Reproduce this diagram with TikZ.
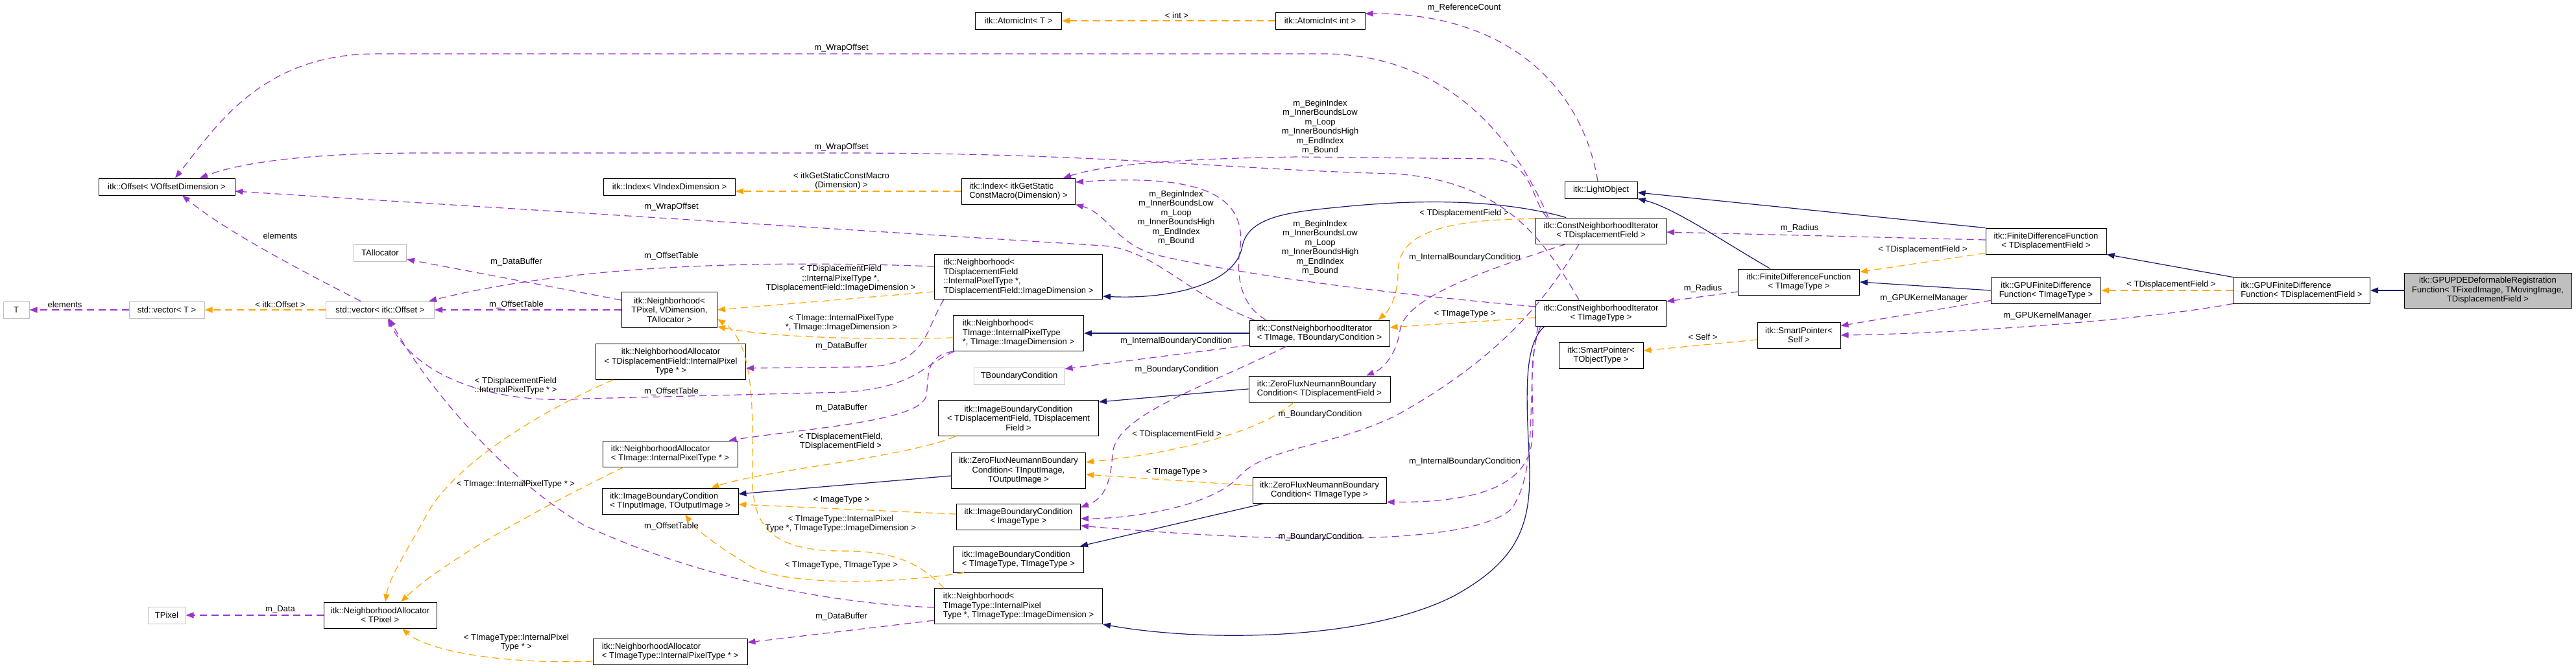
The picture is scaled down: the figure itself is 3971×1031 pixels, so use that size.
\documentclass[tikz,border=0pt]{standalone}
\usepackage{fontspec}
\setmainfont{Liberation Sans}
\usetikzlibrary{arrows.meta}
\definecolor{orchid}{HTML}{9A32CD}
\definecolor{amber}{HTML}{FFA500}
\definecolor{midnight}{HTML}{191970}
\definecolor{grey75}{HTML}{BFBFBF}
\newcommand\dxfont{\fontsize{13}{14.5}\selectfont}
\newcommand\iterlist{m\_BeginIndex\\m\_InnerBoundsLow\\m\_Loop\\m\_InnerBoundsHigh\\m\_EndIndex\\m\_Bound}
\tikzset{cls/.style={draw=black,fill=white,line width=1pt,font=\dxfont,inner sep=2pt,minimum height=26pt,align=center},
  ext/.style={cls,draw=grey75},
  h2/.style={minimum height=40pt},h3/.style={minimum height=55pt},h4/.style={minimum height=69pt},
  inh/.style={draw=midnight,line width=1.2pt,-{Triangle[length=12pt,width=9pt]}},
  tpl/.style={draw=amber,line width=1.2pt,dash pattern=on 11pt off 7pt,-{Triangle[length=12pt,width=9pt]}},
  mem/.style={draw=orchid,line width=1.2pt,dash pattern=on 11pt off 7pt,-{Triangle[length=12pt,width=9pt]}},
  lbl/.style={font=\dxfont,inner sep=0pt,align=center}}

\begin{document}
\begin{tikzpicture}[x=1pt,y=-1pt]
\useasboundingbox (0,0) rectangle (3971,1031);
% classes
\node[ext,minimum width=40pt] (tT) at (25,478) {T};
\node[ext,minimum width=116pt] (vecT) at (257,478) {std::vector< T >};
\node[cls,minimum width=210pt] (offset) at (257,288) {itk::Offset< VOffsetDimension >};
\node[ext,minimum width=58pt] (tpixel) at (257,949) {TPixel};
\node[ext,minimum width=81pt] (tallocator) at (586,390) {TAllocator};
\node[ext,minimum width=167pt] (vecOff) at (586,478) {std::vector< itk::Offset >};
\node[cls,h2,minimum width=174pt] (allocPix) at (586,949) {itk::NeighborhoodAllocator\\< TPixel >};
\node[cls,minimum width=203pt] (indexV) at (1032,288) {itk::Index< VIndexDimension >};
\node[cls,h3,minimum width=147pt] (nbhPix) at (1032,478) {itk::Neighborhood<\\TPixel, VDimension,\\TAllocator >};
\node[cls,h3,minimum width=231pt] (allocDF) at (1034,558) {itk::NeighborhoodAllocator\\< TDisplacementField::InternalPixel\\Type * >};
\node[cls,h2,align=left,minimum width=208pt] (allocImg) at (1033,700) {itk::NeighborhoodAllocator\\< TImage::InternalPixelType * >};
\node[cls,h2,align=left,minimum width=210pt] (ibcInOut) at (1033,773) {itk::ImageBoundaryCondition\\< TInputImage, TOutputImage >};
\node[cls,h2,align=left,minimum width=238pt] (allocImgT) at (1033,1005) {itk::NeighborhoodAllocator\\< TImageType::InternalPixelType * >};
\node[cls,minimum width=133pt] (atomicT) at (1570,32) {itk::AtomicInt< T >};
\node[cls,h2,align=left,minimum width=175pt] (indexMacro) at (1570,295) {itk::Index< itkGetStatic\\ConstMacro(Dimension) >};
\node[cls,h4,align=left,minimum width=259pt] (nbhDF) at (1570,427) {itk::Neighborhood<\\ TDisplacementField\\::InternalPixelType *,\\ TDisplacementField::ImageDimension >};
\node[cls,h3,align=left,minimum width=201pt] (nbhImg) at (1570,514) {itk::Neighborhood<\\ TImage::InternalPixelType\\ *, TImage::ImageDimension >};
\node[ext,minimum width=140pt] (tbc) at (1571,580) {TBoundaryCondition};
\node[cls,h3,minimum width=247pt] (ibcDF) at (1570,645) {itk::ImageBoundaryCondition\\< TDisplacementField, TDisplacement\\Field >};
\node[cls,h3,minimum width=207pt] (zfnInOut) at (1570,726) {itk::ZeroFluxNeumannBoundary\\Condition< TInputImage,\\TOutputImage >};
\node[cls,h2,minimum width=191pt] (ibcImg) at (1570,797) {itk::ImageBoundaryCondition\\< ImageType >};
\node[cls,h2,align=left,minimum width=201pt] (ibcTT) at (1570,863) {itk::ImageBoundaryCondition\\< TImageType, TImageType >};
\node[cls,h3,align=left,minimum width=259pt] (nbhImgT) at (1570,935) {itk::Neighborhood<\\ TImageType::InternalPixel\\Type *, TImageType::ImageDimension >};
\node[cls,minimum width=138pt] (atomicInt) at (2035,32) {itk::AtomicInt< int >};
\node[cls,h2,align=left,minimum width=216pt] (cniImgBC) at (2034,514) {itk::ConstNeighborhoodIterator\\< TImage, TBoundaryCondition >};
\node[cls,h2,align=left,minimum width=218pt] (zfnDF) at (2034,600) {itk::ZeroFluxNeumannBoundary\\Condition< TDisplacementField >};
\node[cls,h2,minimum width=206pt] (zfnImg) at (2034,756) {itk::ZeroFluxNeumannBoundary\\Condition< TImageType >};
\node[cls,minimum width=112pt] (light) at (2468,293) {itk::LightObject};
\node[cls,h2,minimum width=201pt] (cniDF) at (2468,356) {itk::ConstNeighborhoodIterator\\< TDisplacementField >};
\node[cls,h2,minimum width=201pt] (cniImgT) at (2468,483) {itk::ConstNeighborhoodIterator\\< TImageType >};
\node[cls,h2,minimum width=130pt] (spObj) at (2468,548) {itk::SmartPointer<\\TObjectType >};
\node[cls,h2,minimum width=187pt] (fdfImgT) at (2773,435) {itk::FiniteDifferenceFunction\\< TImageType >};
\node[cls,h2,minimum width=128pt] (spSelf) at (2773,517) {itk::SmartPointer<\\Self >};
\node[cls,h2,minimum width=186pt] (fdfDF) at (3154,372) {itk::FiniteDifferenceFunction\\< TDisplacementField >};
\node[cls,h2,minimum width=169pt] (gpuImgT) at (3154,448) {itk::GPUFiniteDifference\\Function< TImageType >};
\node[cls,h2,align=left,minimum width=211pt] (gpuDF) at (3548,448) {itk::GPUFiniteDifference\\Function< TDisplacementField >};
\node[cls,h3,fill=grey75,minimum width=258pt,minimum height=54pt] (main) at (3835,448) {itk::GPUPDEDeformableRegistration\\Function< TFixedImage, TMovingImage,\\TDisplacementField >};
% inheritance
\draw[inh] (main.west) -- (gpuDF.east);
\draw[inh] (gpuDF.north west) -- (fdfDF.south east);
\draw[inh] (gpuImgT.west) -- (fdfImgT.east);
\draw[inh] (fdfDF.north west) -- ([yshift=-4pt]light.east);
\draw[inh] ([xshift=50pt]fdfImgT.north west) .. controls (2660,375) and (2580,320) .. (light.south east);
\draw[inh] ([xshift=47pt]cniDF.north west) .. controls (2330,312) and (2220,305) .. (2080,318) .. controls (2000,326) and (1925,330) .. (1915,380) .. controls (1905,440) and (1800,462) .. ([yshift=5pt]nbhDF.south east);
\draw[inh] (cniImgBC.west) -- (nbhImg.east);
\draw[inh] ([xshift=14pt]cniImgT.south west) .. controls (2350,530) and (2352,600) .. (2357,700) .. controls (2362,800) and (2350,860) .. (2240,920) .. controls (2100,990) and (1850,990) .. (nbhImgT.south east);
\draw[inh] (zfnDF.west) -- ([yshift=-3pt]ibcDF.north east);
\draw[inh] ([yshift=-8pt]zfnInOut.west) -- ([yshift=11pt]ibcInOut.east);
\draw[inh] ([xshift=19pt]zfnImg.south west) -- ([xshift=-6pt]ibcTT.north east);
% template instances
\draw[tpl] (atomicInt.west) -- (atomicT.east);
\draw[tpl] (indexMacro.west) -- ([yshift=-7pt]indexV.east);
\draw[tpl] ([yshift=-23pt]nbhDF.west) -- (nbhPix.east);
\draw[tpl] ([yshift=-7pt]nbhImg.west) .. controls (1350,524) and (1200,522) .. ([yshift=2pt]nbhPix.south east);
\draw[tpl] ([xshift=15pt]nbhImgT.north west) .. controls (1420,870) and (1380,850) .. (1300,850) .. controls (1200,850) and (1160,820) .. (1160,740) .. controls (1160,640) and (1165,530) .. ([yshift=-14pt]nbhPix.east);
\draw[tpl] (vecOff.west) -- (vecT.east);
\draw[tpl] ([xshift=27pt]allocDF.south west) .. controls (820,640) and (700,720) .. (660,790) .. controls (630,845) and (600,890) .. ([xshift=8pt]allocPix.north);
\draw[tpl] ([xshift=33pt]allocImg.south west) .. controls (850,775) and (690,860) .. ([xshift=32pt]allocPix.north);
\draw[tpl] ([yshift=-15pt]allocImgT.west) .. controls (780,1025) and (660,1005) .. ([xshift=34pt]allocPix.south);
\draw[tpl] ([xshift=27pt]ibcDF.south west) .. controls (1400,705) and (1180,725) .. ([xshift=-42pt]ibcInOut.north east);
\draw[tpl] ([yshift=4pt]ibcImg.west) -- ([yshift=-5pt]ibcInOut.east);
\draw[tpl] ([xshift=17pt]ibcTT.south west) .. controls (1380,900) and (1220,905) .. (1160,875) .. controls (1110,845) and (1075,820) .. ([xshift=23pt]ibcInOut.south);
\draw[tpl] ([xshift=70pt]zfnDF.south west) .. controls (1940,670) and (1800,700) .. ([yshift=13pt]zfnInOut.east);
\draw[tpl] ([yshift=7pt]zfnImg.west) -- ([yshift=-6pt]zfnInOut.east);
\draw[tpl] ([yshift=-2pt]cniDF.north west) .. controls (2200,338) and (2155,370) .. (2155,420) .. controls (2155,460) and (2140,480) .. ([xshift=-18pt]cniImgBC.north east);
\draw[tpl] ([yshift=-7pt]cniImgT.west) -- ([yshift=9pt]cniImgBC.east);
\draw[tpl] ([yshift=-7pt]spSelf.west) -- ([yshift=7pt]spObj.east);
\draw[tpl] ([yshift=2pt]fdfDF.south west) -- ([yshift=-5pt]fdfImgT.north east);
\draw[tpl] (gpuDF.west) -- (gpuImgT.east);
% members
\draw[mem] ([xshift=-5pt]light.north) .. controls (2440,140) and (2330,20) .. ([yshift=11pt]atomicInt.east);
\draw[mem] ([xshift=20pt]cniDF.north west) .. controls (2350,250) and (2260,90) .. (2050,83) -- (580,83) .. controls (400,83) and (330,200) .. ([xshift=13pt]offset.north);
\draw[mem] ([xshift=67pt]cniImgT.north west) .. controls (2380,370) and (2320,280) .. (2150,268) .. controls (1900,262) and (1700,236) .. (1300,236) -- (650,236) .. controls (450,236) and (360,255) .. ([xshift=51pt]offset.north);
\draw[mem] ([xshift=8pt]cniImgBC.north west) .. controls (1830,455) and (1780,385) .. (1700,379) -- ([yshift=-7pt]offset.east);
\draw[mem] ([xshift=26pt]cniImgBC.north west) .. controls (1910,470) and (1905,420) .. (1912,380) .. controls (1920,300) and (1850,268) .. ([yshift=14pt]indexMacro.east);
\draw[mem] ([xshift=18pt]cniDF.north west) .. controls (2360,310) and (2365,250) .. (2300,245) -- (2000,242) .. controls (1800,245) and (1700,255) .. ([xshift=-19pt]indexMacro.north east);
\draw[mem] ([yshift=10pt]cniImgT.west) .. controls (2100,450) and (1900,420) .. (1790,395) .. controls (1720,380) and (1710,330) .. (indexMacro.south east);
\draw[mem] ([xshift=47pt]cniDF.south west) .. controls (2280,420) and (2165,460) .. (2158,510) .. controls (2152,550) and (2130,570) .. ([xshift=72pt]zfnDF.north);
\draw[mem] ([xshift=67pt]cniDF.south west) .. controls (2380,470) and (2300,560) .. (2150,642) .. controls (2050,690) and (1950,690) .. (1910,735) .. controls (1870,780) and (1750,800) .. ([yshift=-3pt]ibcImg.east);
\draw[mem] ([yshift=2pt]cniImgBC.south west) -- ([yshift=11pt]tbc.east);
\draw[mem] ([xshift=57pt]cniImgBC.south west) .. controls (1850,600) and (1720,640) .. (1715,700) .. controls (1712,750) and (1700,770) .. ([yshift=-6pt]ibcImg.north east);
\draw[mem] ([xshift=8pt]cniImgT.south west) .. controls (2350,560) and (2370,640) .. (2360,690) .. controls (2345,760) and (2250,775) .. ([yshift=2pt]zfnImg.south east);
\draw[mem] ([xshift=4pt]cniImgT.south west) .. controls (2350,600) and (2375,720) .. (2330,785) .. controls (2270,840) and (2000,840) .. ([yshift=-14pt]ibcImg.east);
\draw[mem] ([yshift=2pt]fdfDF.west) -- ([yshift=-2pt]cniDF.east);
\draw[mem] ([yshift=-15pt]fdfImgT.west) -- ([yshift=18pt]cniImgT.east);
\draw[mem] ([yshift=5pt]gpuImgT.south west) -- ([yshift=-6pt]spSelf.north east);
\draw[mem] (gpuDF.south west) .. controls (3300,495) and (3000,515) .. (spSelf.east);
\draw[mem] ([yshift=15pt]nbhPix.west) -- ([yshift=-10pt]tallocator.east);
\draw[mem] (nbhPix.west) -- (vecOff.east);
\draw[mem] ([yshift=16pt]nbhDF.west) .. controls (1200,402) and (900,405) .. ([xshift=-9pt]vecOff.north east);
\draw[mem] ([xshift=15pt]nbhDF.south west) .. controls (1425,510) and (1430,565) .. (1330,566) -- ([yshift=-10pt]allocDF.east);
\draw[mem] (nbhImg.south west) .. controls (1425,550) and (1432,580) .. (1428,610) .. controls (1420,650) and (1250,660) .. ([xshift=-14pt]allocImg.north east);
\draw[mem] ([xshift=2pt]nbhImg.south west) .. controls (1420,565) and (1410,598) .. (1300,605) -- (900,615) .. controls (760,625) and (640,580) .. ([xshift=12pt]vecOff.south);
\draw[mem] ([yshift=-2pt]nbhImgT.west) .. controls (1250,930) and (1050,880) .. (900,810) .. controls (780,740) and (660,600) .. ([xshift=14pt]vecOff.south);
\draw[mem] ([yshift=-22pt]nbhImgT.west) -- ([yshift=14pt]allocImgT.east);
\draw[mem] ([xshift=-30pt]vecOff.north) .. controls (430,400) and (340,350) .. ([xshift=24pt]offset.south);
\draw[mem] (vecT.west) -- (tT.east);
\draw[mem] (allocPix.west) -- (tpixel.east);
% edge labels
\node[lbl] (lElemA) at (432,364) {elements};
\node[lbl] (lElemB) at (100,470) {elements};
\node[lbl] (lVecOff) at (432,470) {< itk::Offset >};
\node[lbl] (lData) at (432,940) {m\_Data};
\node[lbl] (lBufA) at (796,404) {m\_DataBuffer};
\node[lbl] (lTblA) at (796,470) {m\_OffsetTable};
\node[lbl] (lAllocDF) at (795,595) {< TDisplacementField\\::InternalPixelType * >};
\node[lbl] (lAllocImg) at (795,747) {< TImage::InternalPixelType * >};
\node[lbl] (lAllocImgT) at (796,991) {< TImageType::InternalPixel\\Type * >};
\node[lbl] (lWrapA) at (1297,74) {m\_WrapOffset};
\node[lbl] (lWrapB) at (1297,227) {m\_WrapOffset};
\node[lbl] (lWrapC) at (1035,319) {m\_WrapOffset};
\node[lbl] (lIndex) at (1297,279) {< itkGetStaticConstMacro\\(Dimension) >};
\node[lbl] (lTblB) at (1035,395) {m\_OffsetTable};
\node[lbl] (lTblC) at (1035,604) {m\_OffsetTable};
\node[lbl] (lTblD) at (1035,812) {m\_OffsetTable};
\node[lbl] (lNbhDF) at (1296,430) {< TDisplacementField\\::InternalPixelType *,\\TDisplacementField::ImageDimension >};
\node[lbl] (lNbhImg) at (1297,498) {< TImage::InternalPixelType\\*, TImage::ImageDimension >};
\node[lbl] (lBufB) at (1297,534) {m\_DataBuffer};
\node[lbl] (lBufC) at (1297,629) {m\_DataBuffer};
\node[lbl] (lBufD) at (1297,951) {m\_DataBuffer};
\node[lbl] (lIbcDF) at (1296,681) {< TDisplacementField,\\TDisplacementField >};
\node[lbl] (lIbcImg) at (1297,771) {< ImageType >};
\node[lbl] (lNbhImgT) at (1296,808) {< TImageType::InternalPixel\\Type *, TImageType::ImageDimension >};
\node[lbl] (lIbcTT) at (1297,872) {< TImageType, TImageType >};
\node[lbl] (lInt) at (1814,24) {< int >};
\node[lbl] (lIterA) at (1813,336) {\iterlist};
\node[lbl] (lIntBcA) at (1813,526) {m\_InternalBoundaryCondition};
\node[lbl] (lBcA) at (1814,570) {m\_BoundaryCondition};
\node[lbl] (lZfnDF) at (1814,670) {< TDisplacementField >};
\node[lbl] (lZfnImg) at (1814,728) {< TImageType >};
\node[lbl] (lRef) at (2257,12) {m\_ReferenceCount};
\node[lbl] (lIterB) at (2035,196) {\iterlist};
\node[lbl] (lIterC) at (2035,382) {\iterlist};
\node[lbl] (lCniDF) at (2257,329) {< TDisplacementField >};
\node[lbl] (lIntBcB) at (2258,397) {m\_InternalBoundaryCondition};
\node[lbl] (lCniImgT) at (2258,484) {< TImageType >};
\node[lbl] (lBcB) at (2035,639) {m\_BoundaryCondition};
\node[lbl] (lIntBcC) at (2258,712) {m\_InternalBoundaryCondition};
\node[lbl] (lBcC) at (2035,828) {m\_BoundaryCondition};
\node[lbl] (lRadA) at (2625,445) {m\_Radius};
\node[lbl] (lSelf) at (2625,520) {< Self >};
\node[lbl] (lRadB) at (2774,352) {m\_Radius};
\node[lbl] (lFdf) at (2964,385) {< TDisplacementField >};
\node[lbl] (lGpuA) at (2966,460) {m\_GPUKernelManager};
\node[lbl] (lGpuB) at (3156,487) {m\_GPUKernelManager};
\node[lbl] (lGpuDF) at (3347,439) {< TDisplacementField >};
\end{tikzpicture}
\end{document}
